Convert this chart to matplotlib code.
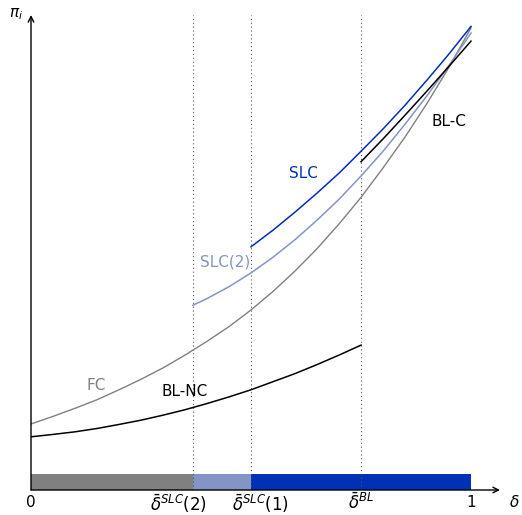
import matplotlib
matplotlib.use("Agg")
import matplotlib.pyplot as plt

# thresholds
d_slc2 = 0.368
d_slc1 = 0.5
d_bl = 0.75

# curves (delta, pi)
fc_x = [0.0, 0.05, 0.1, 0.15, 0.2, 0.25, 0.3, 0.35, 0.4, 0.45, 0.5,
        0.55, 0.6, 0.65, 0.7, 0.75, 0.8, 0.85, 0.9, 0.95, 1.0]
fc_y = [0.139, 0.155, 0.172, 0.190, 0.211, 0.233, 0.257, 0.284, 0.313, 0.344, 0.379,
        0.418, 0.461, 0.508, 0.560, 0.616, 0.678, 0.743, 0.814, 0.890, 0.973]

blnc_x = [0.0, 0.05, 0.1, 0.15, 0.2, 0.25, 0.3, 0.35, 0.4, 0.45, 0.5,
          0.55, 0.6, 0.65, 0.7, 0.75]
blnc_y = [0.112, 0.117, 0.1225, 0.1295, 0.138, 0.147, 0.1575, 0.169, 0.182, 0.196, 0.211,
          0.228, 0.245, 0.264, 0.284, 0.305]

slc_x = [0.5, 0.55, 0.6, 0.65, 0.7, 0.75, 0.8, 0.85, 0.9, 0.95, 1.0]
slc_y = [0.512, 0.547, 0.585, 0.625, 0.667, 0.713, 0.760, 0.810, 0.863, 0.918, 0.976]

slc2_x = [0.368, 0.4, 0.45, 0.5, 0.55, 0.6, 0.65, 0.7, 0.75, 0.8, 0.85, 0.9, 0.95, 1.0]
slc2_y = [0.389, 0.403, 0.428, 0.457, 0.490, 0.527, 0.568, 0.612, 0.661, 0.713, 0.770,
          0.830, 0.894, 0.962]

blc_x = [0.75, 0.8, 0.85, 0.9, 0.95, 1.0]
blc_y = [0.691, 0.739, 0.789, 0.840, 0.892, 0.945]

GRAY = "#808080"
LIGHT = "#8494c4"
BLUE = "#0030b8"

W, H = 522, 515
fig = plt.figure(figsize=(W / 100, H / 100), dpi=100)
ax = fig.add_axes([31 / W, 25 / H, 469 / W, 475 / H])
ax.set_xlim(0, 469 / 440)
ax.set_ylim(0, 1)
ax.axis("off")

# region strip
strip_left = [0.0, d_slc2, d_slc1]
strip_right = [d_slc2, d_slc1, 1.0]
strip_col = [GRAY, LIGHT, BLUE]
for l, r, c in zip(strip_left, strip_right, strip_col):
    ax.barh(0, r - l, left=l, height=0.034, align="edge", color=c, lw=0)

# dotted thresholds
for d in [d_slc2, d_slc1, d_bl]:
    ax.plot([d, d], [0, 1], ls=(0, (1, 2.5)), color="#555555", lw=0.8)

# curves
ax.plot(fc_x, fc_y, color=GRAY, lw=1.0)
ax.plot(blnc_x, blnc_y, color="black", lw=1.1)
ax.plot(slc_x, slc_y, color=BLUE, lw=1.1)
ax.plot(slc2_x, slc2_y, color=LIGHT, lw=1.1)
ax.plot(blc_x, blc_y, color="black", lw=1.1)

# axes arrows
ax.annotate("", xy=(469 / 440, 0), xytext=(0, 0),
            arrowprops=dict(arrowstyle="->", lw=1.0, color="black", shrinkA=0, shrinkB=0),
            annotation_clip=False)
ax.annotate("", xy=(0, 1.0), xytext=(0, 0),
            arrowprops=dict(arrowstyle="->", lw=1.0, color="black", shrinkA=0, shrinkB=0),
            annotation_clip=False)

fs = 11
ax.text(-0.034, 1.002, r"$\pi_i$", ha="center", va="center", fontsize=fs)
ax.text(1.098, -0.025, r"$\delta$", ha="center", va="center", fontsize=fs)

# tick labels
tfs = 12
ax.text(0, -0.01, "0", ha="center", va="top", fontsize=fs)
ax.text(1, -0.01, "1", ha="center", va="top", fontsize=fs)
ax.annotate(r"$\bar{\delta}^{SLC}(2)$", xy=(d_slc2, 0), xytext=(-14, -3),
            textcoords="offset pixels", ha="center", va="top", fontsize=tfs)
ax.annotate(r"$\bar{\delta}^{SLC}(1)$", xy=(d_slc1, 0), xytext=(9, -3),
            textcoords="offset pixels", ha="center", va="top", fontsize=tfs)
ax.annotate(r"$\bar{\delta}^{BL}$", xy=(d_bl, 0), xytext=(0, -3),
            textcoords="offset pixels", ha="center", va="top", fontsize=tfs)

# curve labels
ax.text((303 - 31) / 440, (490 - 174) / 475, "SLC", color=BLUE, ha="center", va="center", fontsize=fs)
ax.text((225 - 31) / 440, (490 - 262) / 475, "SLC(2)", color=LIGHT, ha="center", va="center", fontsize=fs)
ax.text((96 - 31) / 440, (490 - 385) / 475, "FC", color=GRAY, ha="center", va="center", fontsize=fs)
ax.text((185 - 31) / 440, (490 - 392) / 475, "BL-NC", color="black", ha="center", va="center", fontsize=fs)
ax.text((449 - 31) / 440, (490 - 122) / 475, "BL-C", color="black", ha="center", va="center", fontsize=fs)

fig.savefig("out.png", dpi=100)
